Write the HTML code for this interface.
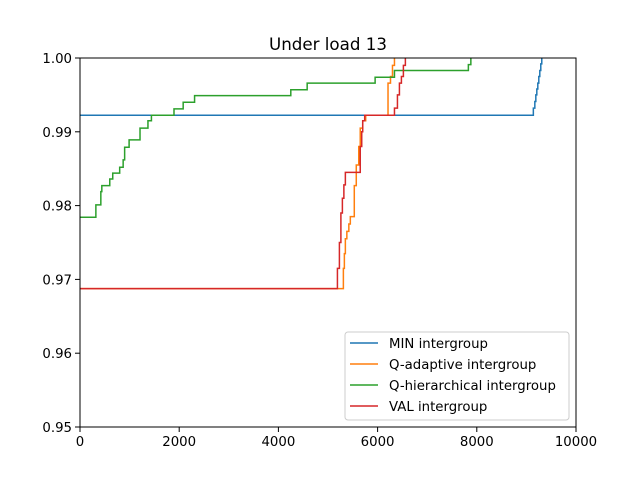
<!DOCTYPE html>
<html><head><meta charset="utf-8"><style>
body{margin:0;background:#fff;font-family:"Liberation Sans","DejaVu Sans",sans-serif;}
svg text{font-family:"DejaVu Sans","Liberation Sans",sans-serif;}
</style></head><body>
<svg id="chart" width="640" height="480" xmlns="http://www.w3.org/2000/svg">
<rect width="640" height="480" fill="#fff"/>
<text x="328" y="50" font-size="16.7" text-anchor="middle">Under load 13</text>
<g id="series"></g>
<rect x="80" y="58" width="496" height="369" fill="none" stroke="#000" stroke-width="1"/>
<g id="ticks"></g>
<g>
<rect x="345" y="332" width="224" height="88" rx="3" fill="#fff" fill-opacity="0.8" stroke="#ccc"/>
<g id="legend-items"></g>
</g>
</svg>
<script>
const xTicks=[0,2000,4000,6000,8000,10000];
const yTicks=[0.95,0.96,0.97,0.98,0.99,1.00];
const seriesNames=["MIN intergroup","Q-adaptive intergroup","Q-hierarchical intergroup","VAL intergroup"];
const seriesColors=["#1f77b4","#ff7f0e","#2ca02c","#d62728"];
const minX=[0,9140,9170,9190,9210,9230,9250,9270,9290,9310];
const minY=[0.99225,0.9932,0.9941,0.995,0.9958,0.9966,0.9975,0.9983,0.9992,1.0];
const qaX=[0,5310,5330,5350,5380,5420,5450,5530,5570,5620,5650,5700,5760,6210,6260,6300,6340];
const qaY=[0.96875,0.9715,0.9735,0.9755,0.9765,0.9775,0.9785,0.9827,0.9855,0.9880,0.9905,0.9915,0.99225,0.9966,0.9975,0.9990,1.0];
const qhX=[0,320,420,440,600,660,800,870,900,990,1210,1370,1440,1895,2080,2310,4250,4580,5950,6340,7830,7880];
const qhY=[0.97842,0.9801,0.9819,0.9827,0.9836,0.9844,0.9852,0.9862,0.9879,0.9889,0.9905,0.9915,0.99225,0.9931,0.9940,0.9949,0.9957,0.9966,0.9974,0.9983,0.9991,1.0];
const valX=[0,5190,5230,5260,5290,5320,5350,5420,5650,5680,5700,5740,6340,6400,6440,6480,6520,6560];
const valY=[0.96875,0.9715,0.9750,0.9790,0.9810,0.9828,0.9845,0.9845,0.9880,0.9900,0.9915,0.99225,0.9932,0.9950,0.9966,0.9975,0.9990,1.0];
const X0=80,X1=576,Y0=427,Y1=58;
function sx(v){return X0+(v-0)/(10000-0)*(X1-X0);}
function sy(v){return Y0-(v-0.95)/(1.0-0.95)*(Y0-Y1);}
const NS="http://www.w3.org/2000/svg";
const seriesG=document.getElementById('series');
const allX=[minX,qaX,qhX,valX],allY=[minY,qaY,qhY,valY];
const keys=["min","q-adaptive","q-hierarchical","val"];
for(let s=0;s<4;s++){
  const xs=allX[s],ys=allY[s];
  let d="M"+sx(xs[0])+","+sy(ys[0]);
  for(let i=1;i<xs.length;i++){d+=" H"+sx(xs[i])+" V"+sy(ys[i]);}
  const p=document.createElementNS(NS,'path');
  p.setAttribute('d',d);p.setAttribute('fill','none');p.setAttribute('stroke',seriesColors[s]);p.setAttribute('stroke-width','1.5');
  p.setAttribute('clip-path','url(#clip)');
  
  
  seriesG.appendChild(p);
}
const defs=document.createElementNS(NS,'defs');
defs.innerHTML='<clipPath id="clip"><rect x="80" y="57" width="496" height="370"/></clipPath>';
document.getElementById('chart').insertBefore(defs,seriesG);
const tg=document.getElementById('ticks');
xTicks.forEach(t=>{
  const l=document.createElementNS(NS,'line');
  l.setAttribute('x1',sx(t));l.setAttribute('x2',sx(t));l.setAttribute('y1',427);l.setAttribute('y2',432);l.setAttribute('stroke','#000');
  
  
  tg.appendChild(l);
  const tx=document.createElementNS(NS,'text');
  tx.setAttribute('x',sx(t));tx.setAttribute('y',446);tx.setAttribute('font-size','13.3');tx.setAttribute('text-anchor','middle');
  tx.textContent=String(t);
  
  
  tg.appendChild(tx);
});
yTicks.forEach(t=>{
  const l=document.createElementNS(NS,'line');
  l.setAttribute('x1',75);l.setAttribute('x2',80);l.setAttribute('y1',sy(t));l.setAttribute('y2',sy(t));l.setAttribute('stroke','#000');
  
  
  tg.appendChild(l);
  const tx=document.createElementNS(NS,'text');
  tx.setAttribute('x',72);tx.setAttribute('y',sy(t)+5);tx.setAttribute('font-size','13.3');tx.setAttribute('text-anchor','end');
  tx.textContent=t.toFixed(2);
  
  
  tg.appendChild(tx);
});
const lg=document.getElementById('legend-items');
seriesNames.forEach((n,i)=>{
  const y=343+i*21;
  const l=document.createElementNS(NS,'line');
  l.setAttribute('x1',350);l.setAttribute('x2',378);l.setAttribute('y1',y);l.setAttribute('y2',y);l.setAttribute('stroke',seriesColors[i]);l.setAttribute('stroke-width','1.5');
  
  
  lg.appendChild(l);
  const tx=document.createElementNS(NS,'text');
  tx.setAttribute('x',389);tx.setAttribute('y',y+5);tx.setAttribute('font-size','13.3');
  tx.textContent=n;
  
  
  lg.appendChild(tx);
});
</script>
</body></html>
